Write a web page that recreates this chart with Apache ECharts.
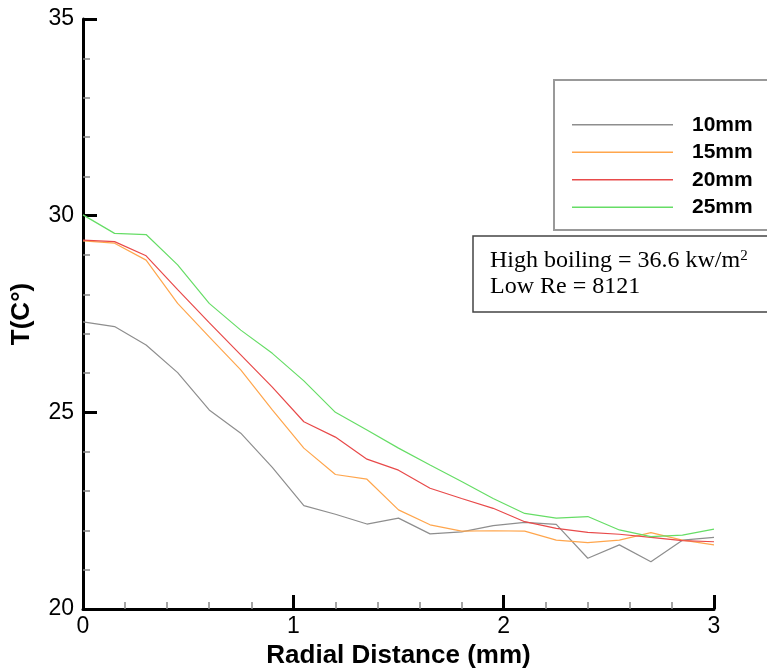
<!DOCTYPE html>
<html>
<head>
<meta charset="utf-8">
<script src="https://cdn.jsdelivr.net/npm/echarts@6/dist/echarts.min.js"></script>
<style>html,body{margin:0;padding:0;background:#fff;overflow:hidden}#c{width:767px;height:668px}</style>
</head>
<body>
<div id="c"></div>
<script>
const xValues = [0,0.15,0.3,0.45,0.6,0.75,0.9,1.05,1.2,1.35,1.5,1.65,1.8,1.95,2.1,2.25,2.4,2.55,2.7,2.85,3.0];
const seriesNames = ['10mm','15mm','20mm','25mm'];
const t10 = [27.30,27.18,26.71,26.01,25.06,24.47,23.60,22.63,22.41,22.16,22.31,21.91,21.96,22.12,22.20,22.15,21.29,21.63,21.20,21.75,21.82];
const t15 = [29.36,29.30,28.87,27.77,26.92,26.08,25.06,24.09,23.42,23.30,22.52,22.14,21.98,21.99,21.98,21.75,21.69,21.75,21.94,21.75,21.63];
const t20 = [29.38,29.34,28.98,28.12,27.28,26.46,25.64,24.76,24.37,23.81,23.53,23.07,22.81,22.56,22.22,22.05,21.95,21.90,21.82,21.74,21.71];
const t25 = [30.02,29.55,29.52,28.75,27.77,27.09,26.50,25.80,25.00,24.55,24.09,23.66,23.24,22.81,22.43,22.31,22.35,22.01,21.84,21.88,22.03];
const colors = ['#8e8e8e','#ffa64d','#e84a4a','#66dd66'];
const allT = [t10,t15,t20,t25];

const chart = echarts.init(document.getElementById('c'));
const axisCommon = {
  axisLine:{show:true,onZero:false,lineStyle:{color:'#000',width:3}},
  axisTick:{show:true,inside:true,length:14,lineStyle:{color:'#000',width:3}},
  minorTick:{show:true,splitNumber:5,length:7,lineStyle:{color:'#888',width:1.5}},
  splitLine:{show:false},
  axisLabel:{color:'#000',fontFamily:'Liberation Sans, Arial',fontSize:23}
};
chart.setOption({
  animation:false,
  backgroundColor:'#fff',
  grid:{left:83,right:53,top:19,bottom:59,containLabel:false,outerBoundsMode:'none'},
  title:{
    text:'High boiling = 36.6 kw/m{sup|2}\nLow Re = 8121',
    left:473, top:236,
    borderColor:'#444', borderWidth:1.5,
    padding:[12,40,12,17],
    textStyle:{fontFamily:'Liberation Serif, Times New Roman',fontSize:24,fontWeight:'normal',color:'#000',lineHeight:26,
      rich:{sup:{fontFamily:'Liberation Serif',fontSize:15,color:'#000',padding:[0,0,10,0]}}}
  },
  legend:{
    orient:'vertical', left:554, top:80,
    padding:[31,40,9,18],
    borderColor:'#999', borderWidth:2, backgroundColor:'#fff',
    icon:'rect', itemWidth:101, itemHeight:1.5, itemGap:0,
    textStyle:{fontFamily:'Liberation Sans, Arial',fontWeight:'bold',fontSize:21,color:'#000',lineHeight:27.5,padding:[0,0,0,14]},
    data:seriesNames
  },
  xAxis:Object.assign({},axisCommon,{
    type:'value',min:0,max:3,interval:1,
    name:'Radial Distance (mm)',nameLocation:'middle',nameGap:25,
    nameTextStyle:{fontFamily:'Liberation Sans, Arial',fontWeight:'bold',fontSize:26,color:'#000'},
    axisLabel:Object.assign({},axisCommon.axisLabel,{margin:6})
  }),
  yAxis:Object.assign({},axisCommon,{
    type:'value',min:20,max:35,interval:5,
    name:'T(C°)',nameLocation:'middle',nameGap:48,nameRotate:90,
    nameTextStyle:{fontFamily:'Liberation Sans, Arial',fontWeight:'bold',fontSize:26,color:'#000'},
    axisLabel:Object.assign({},axisCommon.axisLabel,{margin:9})
  }),
  series:seriesNames.map((n,k)=>({
    name:n,type:'line',symbol:'none',
    data:xValues.map((x,i)=>[x,allT[k][i]]),
    lineStyle:{color:colors[k],width:1.2},
    itemStyle:{color:colors[k]}
  }))
});
</script>
</body>
</html>
